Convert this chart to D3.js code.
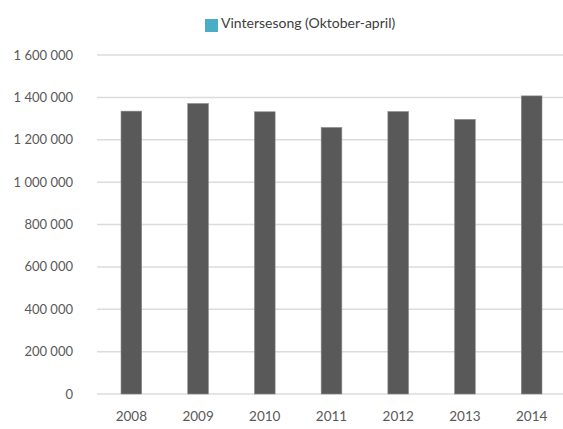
<!DOCTYPE html>
<html><head><meta charset="utf-8">
<script src="https://cdn.jsdelivr.net/npm/d3@7"></script>
<style>body{margin:0;background:#fff;} text{font-family:Lato,"Open Sans",sans-serif;}</style>
</head><body>
<svg id="c" width="563" height="429"></svg>
<script>
const years = ["2008","2009","2010","2011","2012","2013","2014"];
const values = [1335000,1371000,1332000,1258000,1333000,1296000,1407000];
const yTicks = [0,200000,400000,600000,800000,1000000,1200000,1400000,1600000];
const seriesName = "Vintersesong (Oktober-april)";

const svg = d3.select("#c");
const x = d3.scaleBand().domain(years).range([98,565]).paddingInner(0.69).paddingOuter(0.345);
const y = d3.scaleLinear().domain([0,1600000]).range([394,55]);
const fmt = v => d3.format(",")(v).replace(/,/g," ");

const g = svg.append("g");
g.selectAll("line.grid").data(yTicks).join("line")
  .attr("x1",97).attr("x2",563).attr("y1",d=>y(d)).attr("y2",d=>y(d))
  .attr("stroke","#dcdcdc").attr("stroke-width",1.5);
g.selectAll("text.yl").data(yTicks).join("text")
  .attr("x",73).attr("y",d=>y(d)+4.5).attr("text-anchor","end")
  .attr("font-size",13).attr("fill","#595959").text(fmt);

g.selectAll("rect.bar").data(values).join("rect")
  .attr("x",(d,i)=>x(years[i])).attr("width",x.bandwidth())
  .attr("y",d=>y(d)).attr("height",d=>y(0)-y(d))
  .attr("fill","#595959").attr("stroke","#8a8a8a").attr("stroke-width",0.6);

g.selectAll("text.xl").data(years).join("text")
  .attr("x",d=>x(d)+x.bandwidth()/2).attr("y",421).attr("text-anchor","middle")
  .attr("font-size",13.5).attr("fill","#595959").text(d=>d);

svg.append("rect").attr("x",205).attr("y",19).attr("width",13).attr("height",13).attr("fill","#4bacc6");
svg.append("text").attr("x",221).attr("y",28).attr("font-size",14).attr("fill","#404040").text(seriesName);
</script>
</body></html>
